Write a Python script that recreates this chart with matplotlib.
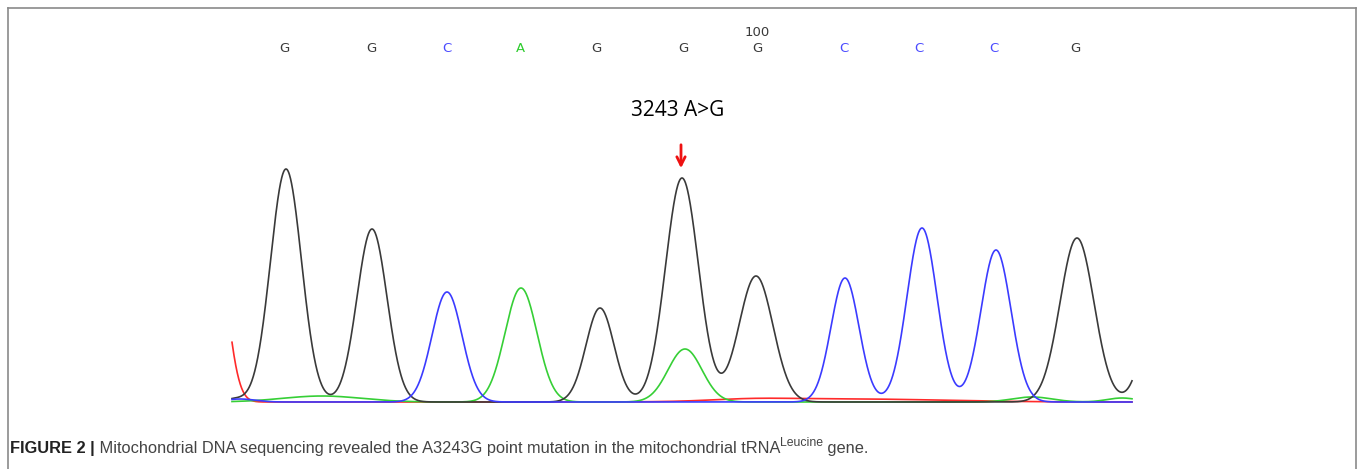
"""
Sanger trace around mtDNA 3243 (A>G) -- recreated chromatogram figure
"""

import numpy as np
import matplotlib.pyplot as plt
from matplotlib.lines import Line2D

# base calls above the trace (scan position, base)
call_pos = [52, 139, 215, 288, 364, 451, 525, 612, 687, 762, 843]
call_base = ["G", "G", "C", "A", "G", "G", "G", "C", "C", "C", "G"]
call_100_pos = 525

# peaks per channel: centre (scan), height (signal), width (sigma)
black_pos = [54, 140, 368, 450, 524, 845, 932, 2]
black_hgt = [233, 173, 94, 224, 126, 164, 150, 3]
black_wid = [15.5, 15, 14, 16.5, 17, 17, 16, 10]

blue_pos = [215, 613, 690, 764, 8]
blue_hgt = [110, 124, 174, 152, 3]
blue_wid = [15, 14, 15, 15, 15]

green_pos = [289, 453, 90, 800, 890]
green_hgt = [114, 53, 6, 5, 4]
green_wid = [16, 17, 40, 20, 15]

red_pos = [-17, 620, 520]
red_hgt = [163, 3, 2]
red_wid = [12, 90, 40]

mut_pos = 449
mut_label = "3243 A>G"
caption_bold = "FIGURE 2 |"
caption_text = " Mitochondrial DNA sequencing revealed the A3243G point mutation in the mitochondrial tRNA"
caption_sup = "Leucine"
caption_end = " gene."

base_colors = {"G": "#3a3a3a", "C": "#4a4aff", "A": "#2ecc2e", "T": "#ff2020"}

W, H = 1360, 469


def trace(x, pos, hgt, wid):
    y = np.zeros_like(x)
    for p, h, w in zip(pos, hgt, wid):
        y += h * np.exp(-0.5 * ((x - p) / w) ** 2)
    return y


def main():
    fig = plt.figure(figsize=(W / 100, H / 100), dpi=100)
    ax = fig.add_axes([232 / W, (H - 402) / H, 900 / W, 250 / H])
    ax.set_xlim(0, 900)
    ax.set_ylim(0, 250)
    ax.axis("off")

    x = np.linspace(0, 900, 3601)
    ax.axhline(-1, color="#8c8c8c", lw=1.6, zorder=1)
    for pos, hgt, wid, col in [
        (red_pos, red_hgt, red_wid, "#ff2a2a"),
        (green_pos, green_hgt, green_wid, "#36cf36"),
        (black_pos, black_hgt, black_wid, "#3a3a3a"),
        (blue_pos, blue_hgt, blue_wid, "#3b3bff"),
    ]:
        ax.plot(x, trace(x, pos, hgt, wid), color=col, lw=1.2, zorder=2, clip_on=False)

    for p, b in zip(call_pos, call_base):
        ax.text(p, 354, b, color=base_colors[b], fontsize=9.5, ha="center",
                va="center", clip_on=False)
    ax.text(call_100_pos, 370, "100", color="#3a3a3a", fontsize=9.5, ha="center",
            va="center", clip_on=False)

    ax.text(mut_pos - 3, 292, mut_label, fontsize=15, family="Open Sans",
            ha="center", va="center", clip_on=False)
    ax.annotate("", xy=(mut_pos, 231), xytext=(mut_pos, 260),
                arrowprops=dict(arrowstyle="->", color="#ee1111", lw=2,
                                mutation_scale=15), annotation_clip=False)

    # outer frame, open at the bottom
    gray = "#8a8a8a"
    fig.add_artist(Line2D([8 / W, 8 / W], [0, 1 - 8 / H], color=gray, lw=1.2))
    fig.add_artist(Line2D([8 / W, 1356 / W], [1 - 8 / H, 1 - 8 / H], color=gray, lw=1.2))
    fig.add_artist(Line2D([1356 / W, 1356 / W], [0, 1 - 8 / H], color=gray, lw=1.2))

    # caption, pieced together so the superscript sits right
    fam = ["Liberation Sans", "DejaVu Sans"]
    fs = 11.75
    yb = (H - 453) / H
    t1 = fig.text(10 / W, yb, caption_bold, fontsize=fs, weight="bold",
                  family=fam, color="#222222", va="baseline")
    fig.canvas.draw()
    r = fig.canvas.get_renderer()
    x1 = t1.get_window_extent(r).x1 / W
    t2 = fig.text(x1, yb, caption_text, fontsize=fs, family=fam,
                  color="#444444", va="baseline")
    x2 = t2.get_window_extent(r).x1 / W
    t3 = fig.text(x2, yb + 7 / H, caption_sup, fontsize=fs * 0.75, family=fam,
                  color="#444444", va="baseline")
    x3 = t3.get_window_extent(r).x1 / W
    fig.text(x3, yb, caption_end, fontsize=fs, family=fam,
             color="#444444", va="baseline")

    fig.savefig("out.png", dpi=100)
    plt.close(fig)


if __name__ == "__main__":
    main()
